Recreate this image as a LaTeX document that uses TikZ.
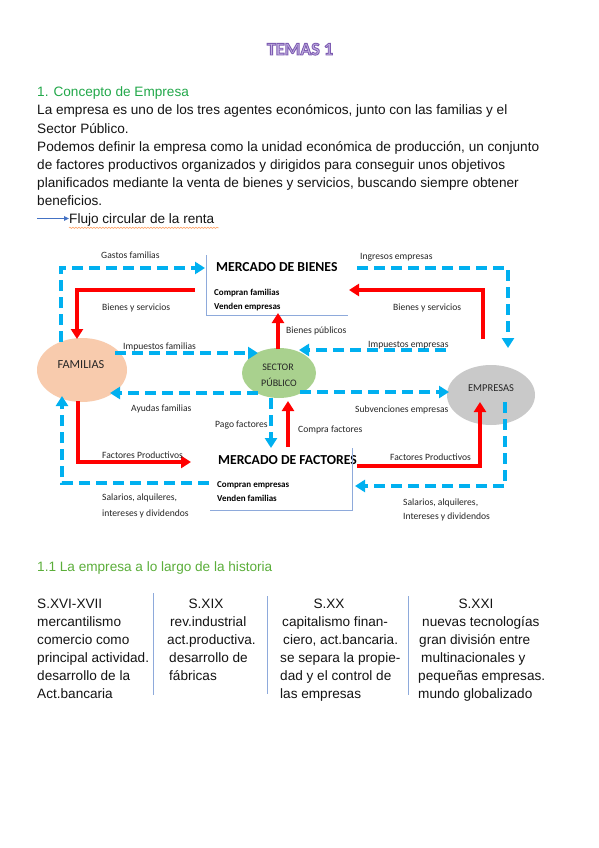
\documentclass[tikz,border=0pt]{standalone}
\usepackage{fontspec}
\setmainfont{Liberation Sans}
\newfontfamily\calfont{Carlito}
\usetikzlibrary{arrows.meta,decorations.pathmorphing,shapes.geometric}
\definecolor{cblue}{HTML}{00B0F0}
\definecolor{cred}{HTML}{FF0000}
\definecolor{boxline}{HTML}{8EAADB}
\definecolor{famc}{HTML}{F8CBAD}
\definecolor{secc}{HTML}{A9D18E}
\definecolor{empc}{HTML}{C9C9C9}
\definecolor{greenA}{HTML}{22A84A}
\definecolor{greenB}{HTML}{5BAE3A}
\definecolor{bodyc}{HTML}{141414}
\definecolor{titlefill}{HTML}{C3B1E1}
\definecolor{arrowc}{HTML}{4472C4}
\newcommand{\outlinedtitle}[1]{{\color{titlefill}\special{pdf:code q 2 Tr 0.9 w 0.49 0.36 0.70 RG}#1\special{pdf:code 0 Tr Q}}}
\tikzset{
  body/.style={font=\fontsize{13.6}{16}\selectfont, text=bodyc, inner sep=0, anchor=base west},
  bodyc/.style={font=\fontsize{13.6}{16}\selectfont, text=bodyc, inner sep=0, anchor=base},
  lbl/.style={font=\calfont\fontsize{9.6}{10}\selectfont, text=black!85, inner sep=0, anchor=base west},
  lblb/.style={font=\calfont\bfseries\fontsize{9}{10}\selectfont, text=black, inner sep=0, anchor=base west},
  mkt/.style={font=\calfont\bfseries\fontsize{13.7}{14}\selectfont, text=black, inner sep=0, anchor=base west},
  agent/.style={ellipse, inner sep=0},
  agtxt/.style={font=\calfont\fontsize{10.5}{12}\selectfont, text=black!85, inner sep=0},
  flowb/.style={draw=cblue, line width=3.6pt, dash pattern=on 11pt off 6pt, -{Triangle[length=10pt,width=12pt]}},
  flowr/.style={draw=cred, line width=4pt, -{Triangle[length=10pt,width=12pt]}},
  boxedge/.style={draw=boxline, line width=0.9pt},
  divider/.style={draw=boxline, line width=1pt},
  ttl/.style={font=\calfont\bfseries\fontsize{18}{20}\selectfont, inner sep=0, anchor=base},
}
\begin{document}
\begin{tikzpicture}[x=1pt,y=-1pt]
\useasboundingbox[fill=white] (0,0) rectangle (599,848);

% ---------- Title ----------
\node[ttl] (title) at (300,55) {\outlinedtitle{TEMAS 1}};

% ---------- Intro text ----------
\node[body, text=greenA] (h1) at (37,97) {1. Concepto de Empresa};
\node[body] (p1) at (37,115) {La empresa es uno de los tres agentes económicos, junto con las familias y el};
\node[body] (p2) at (37,133) {Sector Público.};
\node[body] (p3) at (37,151) {Podemos definir la empresa como la unidad económica de producción, un conjunto};
\node[body] (p4) at (37,169) {de factores productivos organizados y dirigidos para conseguir unos objetivos};
\node[body] (p5) at (37,187) {planificados mediante la venta de bienes y servicios, buscando siempre obtener};
\node[body] (p6) at (37,205) {beneficios.};
\coordinate (fa0) at (37,218.5);
\node[body] (flujo) at (69,223) {Flujo circular de la renta};
\draw[arrowc, line width=1.1pt, -{Triangle[length=5pt,width=4.5pt]}] (fa0) -- (flujo.west |- fa0);
\draw[orange!80!red!60, line width=0.6pt, decorate, decoration={snake, amplitude=0.6pt, segment length=3pt}]
  (flujo.south west) ++(0,1.8) -- ++(150,0);

% ---------- Diagram: agents ----------
\node[agent, fill=famc, minimum width=90pt, minimum height=64pt] (fam) at (82,370) {};
\node[agent, fill=secc, minimum width=74pt, minimum height=50pt] (sec) at (279,373) {};
\node[agent, fill=empc, minimum width=88pt, minimum height=60pt] (emp) at (491,395) {};
\node[agtxt, font=\calfont\fontsize{12.3}{13}\selectfont] (famt) at (81,365) {FAMILIAS};
\node[agtxt, font=\calfont\fontsize{10}{12}\selectfont] (sect1) at (278,367) {SECTOR};
\node[agtxt, font=\calfont\fontsize{10}{12}\selectfont] (sect2) at (279,382) {PÚBLICO};
\node[agtxt] (empt) at (491,388) {EMPRESAS};

% ---------- Markets ----------
\node[mkt] (mb) at (216,271) {MERCADO DE BIENES};
\node[lblb] (mb1) at (214,295) {Compran familias};
\node[lblb] (mb2) at (214,309) {Venden empresas};
\coordinate (mbtl) at (206,255);
\coordinate (mbbl) at (206,315);
\coordinate (mbbr) at (348,315);
\draw[boxedge] (mbtl) -- (mbbl) -- (mbbr);

\node[mkt] (mf) at (218,464) {MERCADO DE FACTORES};
\node[lblb] (mf1) at (217,487) {Compran empresas};
\node[lblb] (mf2) at (217,501) {Venden familias};
\coordinate (mftr) at (352,448);
\coordinate (mfbr) at (352,510);
\coordinate (mfbl) at (210,510);
\draw[boxedge] (mftr) -- (mfbr) -- (mfbl);

% ---------- Blue (money) flows ----------
\coordinate (g0) at (61,342); \coordinate (g1) at (61,268); \coordinate (g2) at (205,268);
\draw[flowb] (g0) -- (g1) -- (g2);
\coordinate (i0) at (357,268); \coordinate (i1) at (508,268); \coordinate (i2) at (508,348);
\draw[flowb] (i0) -- (i1) -- (i2);
\coordinate (if0) at (115,353); \coordinate (if1) at (258,353);
\draw[flowb] (if0) -- (if1);
\coordinate (ie0) at (446,350); \coordinate (ie1) at (299,350);
\draw[flowb] (ie0) -- (ie1);
\coordinate (af0) at (258,393); \coordinate (af1) at (110,393);
\draw[flowb] (af0) -- (af1);
\coordinate (se0) at (300,392); \coordinate (se1) at (449,392);
\draw[flowb] (se0) -- (se1);
\coordinate (pf0) at (271,398); \coordinate (pf1) at (271,448);
\draw[flowb] (pf0) -- (pf1);
\coordinate (sl0) at (209,483); \coordinate (sl1) at (62,483); \coordinate (sl2) at (62,396);
\draw[flowb] (sl0) -- (sl1) -- (sl2);
\coordinate (sr0) at (505,402); \coordinate (sr1) at (505,486); \coordinate (sr2) at (355,486);
\draw[flowb] (sr0) -- (sr1) -- (sr2);

% ---------- Red (real) flows ----------
\coordinate (bl0) at (195,290); \coordinate (bl1) at (77,290); \coordinate (bl2) at (77,339);
\draw[flowr] (bl0) -- (bl1) -- (bl2);
\coordinate (br0) at (483,339); \coordinate (br1) at (483,290); \coordinate (br2) at (349,290);
\draw[flowr] (br0) -- (br1) -- (br2);
\coordinate (bp0) at (278,349); \coordinate (bp1) at (278,313);
\draw[flowr] (bp0) -- (bp1);
\coordinate (cf0) at (288,447); \coordinate (cf1) at (288,401);
\draw[flowr] (cf0) -- (cf1);
\coordinate (fl0) at (78,401); \coordinate (fl1) at (78,462); \coordinate (fl2) at (191,462);
\draw[flowr] (fl0) -- (fl1) -- (fl2);
\coordinate (fr0) at (357,466); \coordinate (fr1) at (480,466); \coordinate (fr2) at (480,402);
\draw[flowr] (fr0) -- (fr1) -- (fr2);

% ---------- Flow labels ----------
\node[lbl] (lg) at (101,258) {Gastos familias};
\node[lbl] (li) at (360,259) {Ingresos empresas};
\node[lbl] (lbl1) at (102,310) {Bienes y servicios};
\node[lbl] (lbl2) at (393,310) {Bienes y servicios};
\node[lbl] (lbp) at (286,333) {Bienes públicos};
\node[lbl] (lif) at (123,349) {Impuestos familias};
\node[lbl] (lie) at (368,347) {Impuestos empresas};
\node[lbl] (laf) at (131,411) {Ayudas familias};
\node[lbl] (lse) at (355,412) {Subvenciones empresas};
\node[lbl] (lpf) at (215,427) {Pago factores};
\node[lbl] (lcf) at (298,432) {Compra factores};
\node[lbl] (lfl) at (102,458) {Factores Productivos};
\node[lbl] (lfr) at (390,460) {Factores Productivos};
\node[lbl] (lsl1) at (102,500) {Salarios, alquileres,};
\node[lbl] (lsl2) at (102,516) {intereses y dividendos};
\node[lbl] (lsr1) at (403,505) {Salarios, alquileres,};
\node[lbl] (lsr2) at (403,519) {Intereses y dividendos};

% ---------- History ----------
\node[body, text=greenB] (h2) at (37,571) {1.1 La empresa a lo largo de la historia};

\node[body] (c1h) at (37,608) {S.XVI-XVII};
\node[body] (c1a) at (37,626) {mercantilismo};
\node[body] (c1b) at (37,644) {comercio como};
\node[body] (c1c) at (37,662) {principal actividad.};
\node[body] (c1d) at (37,680) {desarrollo de la};
\node[body] (c1e) at (37,698) {Act.bancaria};

\node[bodyc] (c2h) at (206,608) {S.XIX};
\node[body] (c2a) at (170,626) {rev.industrial};
\node[body] (c2b) at (167,644) {act.productiva.};
\node[body] (c2c) at (169,662) {desarrollo de};
\node[body] (c2d) at (169,680) {fábricas};

\node[bodyc] (c3h) at (329,608) {S.XX};
\node[body] (c3a) at (282,626) {capitalismo finan-};
\node[body] (c3b) at (283,644) {ciero, act.bancaria.};
\node[body] (c3c) at (280,662) {se separa la propie-};
\node[body] (c3d) at (280,680) {dad y el control de};
\node[body] (c3e) at (280,698) {las empresas};

\node[bodyc] (c4h) at (476,608) {S.XXI};
\node[body] (c4a) at (422,626) {nuevas tecnologías};
\node[body] (c4b) at (419,644) {gran división entre};
\node[body] (c4c) at (421,662) {multinacionales y};
\node[body] (c4d) at (418,680) {pequeñas empresas.};
\node[body] (c4e) at (418,698) {mundo globalizado};

\coordinate (d1a) at (153,593); \coordinate (d1b) at (153,695);
\coordinate (d2a) at (267,596); \coordinate (d2b) at (267,694);
\coordinate (d3a) at (408,596); \coordinate (d3b) at (408,695);
\draw[divider] (d1a) -- (d1b);
\draw[divider] (d2a) -- (d2b);
\draw[divider] (d3a) -- (d3b);
\end{tikzpicture}
\end{document}
